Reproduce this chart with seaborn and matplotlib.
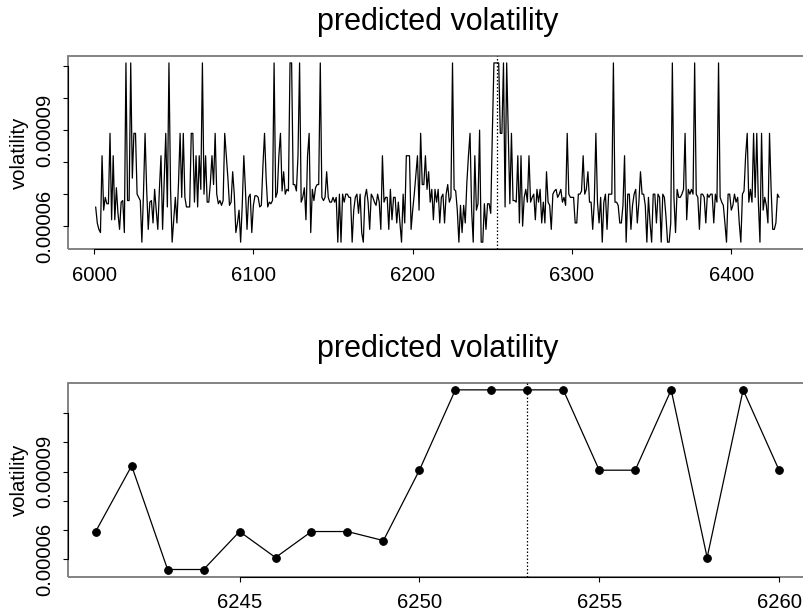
import numpy as np
import pandas as pd
import seaborn as sns
import matplotlib
matplotlib.use("Agg")
import matplotlib.pyplot as plt
from matplotlib.patches import Rectangle
from matplotlib.ticker import FixedLocator, FixedFormatter

# predicted volatility, in units of 1e-5, days 6001..6430
top_start = 6001
top_vals = [
    6.6, 6.1, 5.9, 5.8, 8.2, 6.5, 6.9, 6.7, 6.7, 8.9,
    6.2, 8.2, 6.2, 7.2, 6.4, 5.9, 6.75, 6.8, 5.8, 11.1,
    6.8, 6.8, 11.1, 7.5, 8.9, 8.9, 7.0, 6.9, 6.8, 5.5,
    7.0, 8.9, 7.15, 5.9, 6.75, 6.8, 6.1, 7.15, 6.5, 5.9,
    7.15, 8.2, 5.9, 7.35, 8.9, 6.6, 11.1, 7.15, 5.5, 6.2,
    6.9, 6.1, 7.35, 8.9, 6.9, 8.9, 6.9, 6.6, 6.6, 6.6,
    8.9, 8.9, 6.75, 8.2, 6.6, 8.2, 7.15, 11.1, 7.0, 8.2,
    6.75, 6.75, 7.35, 8.2, 7.3, 8.9, 7.0, 6.7, 6.8, 6.65,
    6.8, 8.9, 8.2, 7.5, 6.65, 6.75, 7.7, 7.0, 5.8, 6.1,
    6.5, 5.5, 6.65, 8.2, 7.15, 5.9, 6.9, 7.0, 5.8, 6.65,
    6.95, 6.95, 6.9, 6.6, 6.65, 7.9, 8.9, 7.5, 6.6, 6.75,
    6.7, 6.8, 11.1, 6.9, 7.05, 8.2, 8.9, 7.1, 7.7, 7.0,
    7.15, 7.1, 11.1, 11.1, 7.3, 7.3, 7.1, 8.2, 11.1, 6.75,
    6.9, 7.2, 6.2, 8.2, 8.9, 5.8, 7.15, 6.8, 7.2, 7.3,
    7.3, 11.1, 6.9, 6.8, 6.9, 7.7, 6.9, 6.75, 6.75, 6.9,
    6.75, 6.9, 5.5, 7.0, 5.5, 7.0, 6.75, 7.0, 7.0, 6.9,
    6.9, 5.5, 6.5, 6.9, 7.0, 6.4, 7.0, 5.8, 5.5, 6.9,
    7.15, 6.75, 5.9, 7.0, 6.9, 6.75, 6.65, 7.0, 6.75, 5.9,
    8.2, 6.75, 6.9, 6.9, 5.9, 7.15, 6.2, 6.9, 6.9, 6.1,
    6.75, 6.1, 5.5, 7.0, 6.1, 8.2, 8.2, 8.2, 5.9, 6.5,
    7.0, 7.6, 8.2, 6.5, 8.9, 7.3, 7.3, 8.2, 7.15, 7.7,
    6.75, 7.15, 6.2, 7.15, 6.75, 7.15, 6.1, 6.9, 7.0, 6.1,
    7.0, 7.3, 6.75, 6.9, 11.1, 7.15, 7.1, 6.5, 5.5, 6.65,
    5.8, 6.65, 6.1, 7.35, 8.2, 8.9, 6.5, 5.5, 8.2, 6.5,
    6.7, 9.0, 5.5, 5.5, 6.7, 5.9, 6.7, 6.7, 6.4, 8.9,
    11.1, 11.1, 11.1, 11.1, 8.9, 8.9, 11.1, 6.6, 11.1, 8.9,
    6.7, 8.9, 6.8, 6.8, 6.75, 8.2, 6.1, 8.2, 6.0, 6.9,
    7.15, 6.75, 8.2, 6.75, 6.9, 7.0, 6.2, 7.15, 6.75, 7.15,
    6.1, 6.75, 6.1, 7.7, 6.75, 6.65, 5.9, 7.0, 7.1, 7.15,
    6.9, 7.0, 7.15, 6.75, 6.9, 6.65, 8.9, 7.0, 6.9, 6.9,
    6.9, 6.1, 6.1, 7.0, 7.0, 7.1, 8.2, 7.0, 7.15, 7.7,
    6.75, 6.75, 5.9, 6.75, 8.9, 6.75, 6.1, 6.9, 5.5, 6.75,
    7.0, 5.9, 7.0, 7.0, 7.0, 11.1, 6.75, 6.75, 6.65, 6.1,
    6.1, 6.65, 8.2, 5.5, 7.0, 7.0, 5.9, 6.65, 7.0, 7.15,
    6.1, 6.75, 7.7, 7.0, 7.0, 6.65, 5.5, 6.9, 6.1, 5.5,
    7.0, 7.0, 6.1, 7.0, 6.9, 5.5, 7.0, 6.9, 6.3, 5.5,
    5.5, 6.1, 11.1, 6.9, 5.8, 7.15, 6.9, 6.9, 7.0, 7.15,
    8.9, 6.2, 7.15, 7.0, 7.15, 7.0, 11.1, 7.0, 6.9, 5.9,
    7.0, 7.0, 6.9, 6.1, 7.0, 6.9, 7.0, 7.0, 6.1, 7.0,
    6.75, 11.1, 6.9, 6.75, 6.65, 6.1, 5.5, 7.0, 7.0, 6.5,
    6.65, 7.0, 6.75, 6.9, 6.1, 5.5, 7.0, 7.1, 8.2, 8.9,
    6.75, 7.15, 6.75, 8.9, 6.9, 8.9, 6.75, 5.5, 8.9, 6.5,
    6.9, 6.65, 6.1, 8.9, 7.15, 5.9, 5.9, 6.1, 7.0, 6.9,
]

# zoomed window, days 6241..6260
bot_start = 6241
bot_vals = [6.95, 9.2, 5.65, 5.65, 6.95, 6.06, 6.95, 6.95, 6.64, 9.05,
            11.8, 11.8, 11.8, 11.8, 9.05, 9.05, 11.8, 6.06, 11.8, 9.05]

event_day = 6253
title = "predicted volatility"
ylab = "volatility"
top_xticks = [6000, 6100, 6200, 6300, 6400]
bot_xticks = [6245, 6250, 6255, 6260]
yticks = [6e-5, 7e-5, 8e-5, 9e-5, 10e-5, 11e-5]
ytick_labels = ["0.00006", "", "", "0.00009", "", ""]

top = pd.DataFrame({"day": top_start + np.arange(len(top_vals)),
                    "vol": np.array(top_vals) * 1e-5})
bot = pd.DataFrame({"day": bot_start + np.arange(len(bot_vals)),
                    "vol": np.array(bot_vals) * 1e-5})

sns.set_theme(style="white")
plt.rcParams["font.family"] = ["Liberation Sans", "DejaVu Sans"]
plt.rcParams["text.color"] = "black"
plt.rcParams["axes.labelcolor"] = "black"
plt.rcParams["xtick.color"] = "black"
plt.rcParams["ytick.color"] = "black"

fig = plt.figure(figsize=(8.04, 6.12), dpi=100)
ax1 = fig.add_axes([0.085, 0.5926, 0.918, 0.3163])
ax2 = fig.add_axes([0.085, 0.0577, 0.918, 0.317])


def r_lims(v):
    lo, hi = np.min(v), np.max(v)
    pad = 0.04 * (hi - lo)
    return lo - pad, hi + pad


def style(ax, df, xticks):
    ax.set_xlim(*r_lims(df["day"]))
    ax.set_ylim(*r_lims(df["vol"]))
    ax.axvline(event_day, color="black", lw=0.9, ls=(0, (1.2, 1.6)))
    ax.set_xticks(xticks)
    ax.set_xticklabels([str(t) for t in xticks], fontsize=14.6)
    ax.yaxis.set_major_locator(FixedLocator(yticks))
    ax.yaxis.set_major_formatter(FixedFormatter(ytick_labels))
    for lab in ax.get_yticklabels():
        lab.set_rotation(90)
        lab.set_va("center")
        lab.set_fontsize(14.6)
    ax.tick_params(axis="x", direction="out", length=3.5, width=0.8,
                   color="black", labelcolor="black", pad=8.5, bottom=True)
    ax.tick_params(axis="y", direction="out", length=3.5, width=0.8,
                   color="black", labelcolor="black", pad=6.5, left=True)
    for s in ["top", "right"]:
        ax.spines[s].set_visible(False)
    ax.spines["left"].set_color("black")
    ax.spines["bottom"].set_color("black")
    ax.spines["left"].set_linewidth(0.8)
    ax.spines["bottom"].set_linewidth(0.8)
    ax.spines["left"].set_bounds(yticks[0], yticks[-1])
    ax.spines["bottom"].set_bounds(xticks[0], xticks[-1])
    ax.add_patch(Rectangle((0, 0), 1, 1, transform=ax.transAxes, fill=False,
                           edgecolor="#7a7a7a", lw=1.3, zorder=0.5,
                           clip_on=False))
    ax.set_xlabel("")
    ax.set_ylabel(ylab, fontsize=14.6, labelpad=5, color="black")
    ax.text(0.5, 1.175, title, transform=ax.transAxes, ha="center",
            va="center", fontsize=22, color="black")


sns.lineplot(data=top, x="day", y="vol", ax=ax1, color="black", lw=0.9)
style(ax1, top, top_xticks)

sns.lineplot(data=bot, x="day", y="vol", ax=ax2, color="black", lw=0.9,
             marker="o", markersize=5.5, markeredgecolor="black",
             markerfacecolor="black")
style(ax2, bot, bot_xticks)

fig.savefig("out.png", dpi=100)
